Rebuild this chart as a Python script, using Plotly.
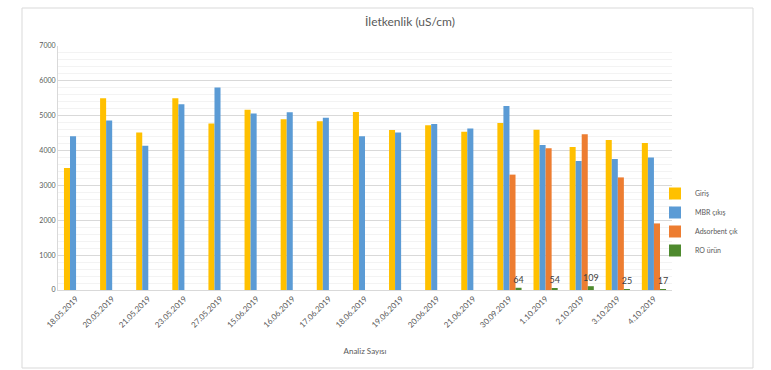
import plotly.graph_objects as go

categories = ["18.05.2019", "20.05.2019", "21.05.2019", "23.05.2019", "27.05.2019",
              "15.06.2019", "16.06.2019", "17.06.2019", "18.06.2019", "19.06.2019",
              "20.06.2019", "21.06.2019", "30.09.2019", "1.10.2019", "2.10.2019",
              "3.10.2019", "4.10.2019"]
giris = [3500, 5500, 4520, 5500, 4780, 5170, 4900, 4840, 5110, 4590, 4730, 4540,
         4790, 4600, 4100, 4300, 4220]
mbr = [4410, 4860, 4140, 5330, 5810, 5060, 5100, 4940, 4410, 4520, 4760, 4630,
       5280, 4160, 3700, 3760, 3800]
adsorbent = [None] * 12 + [3310, 4070, 4470, 3230, 1910]
ro = [None] * 12 + [64, 54, 109, 25, 17]

series_names = ["Giriş", "MBR çıkış", "Adsorbent çık", "RO ürün"]
colors = ["#FFC000", "#5B9BD5", "#ED7D31", "#4E8A2E"]

FONT = "Lato"
fig = go.Figure()
for name, vals, col in zip(series_names, [giris, mbr, adsorbent, ro], colors):
    kw = {}
    if name == "RO ürün":
        kw = dict(text=[("" if v is None else str(v)) for v in vals],
                  textposition="outside", constraintext="none",
                  textfont=dict(size=9, color="#404040", family=FONT),
                  cliponaxis=False)
    fig.add_trace(go.Bar(x=categories, y=vals, name=name, marker_color=col,
                         marker_line_width=0, **kw))

L, R, T, B = 58, 99, 46, 80
pw, ph = 771 - L - R, 370 - T - B

def px_x(p):
    return (p - L) / pw

def px_y(p):
    return (370 - B - p) / ph

fig.update_layout(
    width=771, height=370,
    margin=dict(l=L, r=R, t=T, b=B),
    paper_bgcolor="white", plot_bgcolor="white",
    barmode="group", bargap=0.33, bargroupgap=0,
    font=dict(family=FONT, color="#595959", size=7),
    title=dict(text="İletkenlik (uS/cm)", x=410 / 771, xanchor="center", y=1 - 22 / 370,
               yanchor="middle", font=dict(size=12, color="#595959", family=FONT)),
    legend=dict(x=px_x(655), y=px_y(222), xanchor="left", yanchor="middle",
                font=dict(size=7, color="#595959", family=FONT),
                itemwidth=30, tracegroupgap=0, bgcolor="rgba(0,0,0,0)"),
    showlegend=True,
    xaxis=dict(tickangle=-45, tickfont=dict(size=8, color="#595959"),
               showline=True, linecolor="#D9D9D9", linewidth=1, ticks="",
               title=dict(text="Analiz Sayısı", font=dict(size=8, color="#595959"), standoff=19)),
    yaxis=dict(range=[0, 7000], dtick=1000, tickfont=dict(size=7, color="#595959"),
               showgrid=True, gridcolor="#D9D9D9", gridwidth=1,
               minor=dict(dtick=200, showgrid=True, gridcolor="#F3F3F3", gridwidth=1),
               showline=True, linecolor="#D9D9D9", zeroline=False, ticks=""),
    shapes=[
        dict(type="rect", xref="paper", yref="paper",
             x0=px_x(22), x1=px_x(753), y0=px_y(368), y1=px_y(8),
             line=dict(color="#D9D9D9", width=1), fillcolor="rgba(0,0,0,0)", layer="below"),
    ],
)

fig.write_html("out.html")
